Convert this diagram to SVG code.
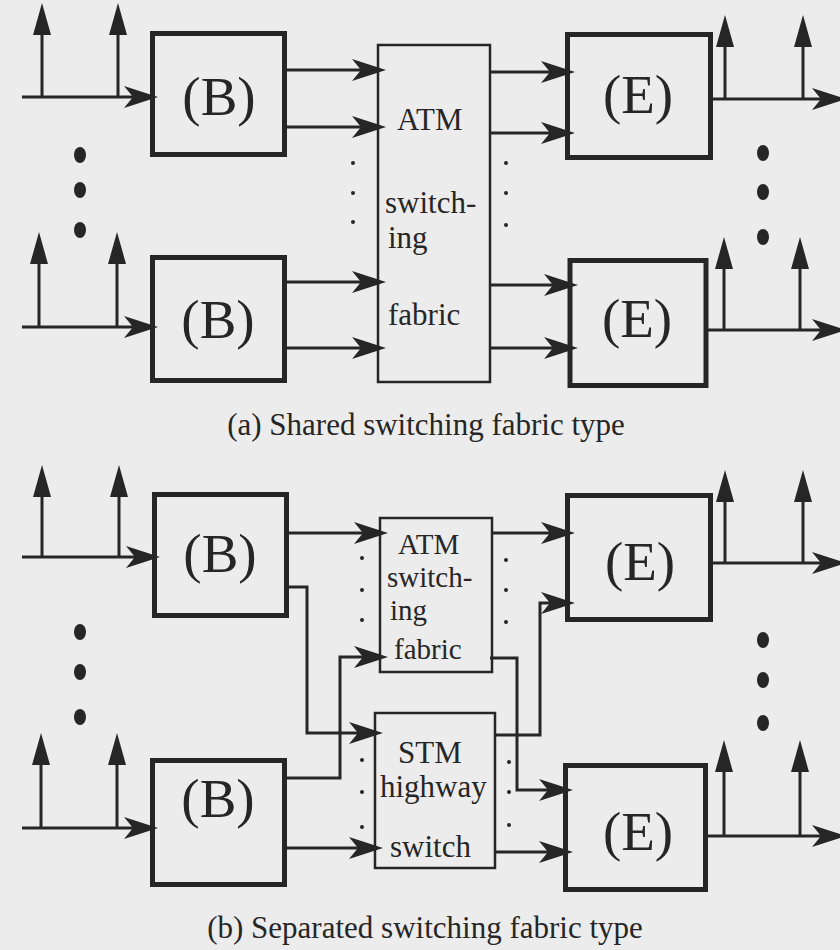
<svg xmlns="http://www.w3.org/2000/svg" width="840" height="950" viewBox="0 0 840 950">
<defs>
<style>
.bg{fill:#ececec}
.box{fill:none;stroke:#262626;stroke-width:5}
.sw{fill:none;stroke:#262626;stroke-width:2.5}
.ln{fill:none;stroke:#262626;stroke-width:3}
.big{font-family:"Liberation Serif","Times New Roman",serif;font-size:55px;fill:#262626;text-anchor:middle}
.lbl{font-family:"Liberation Serif","Times New Roman",serif;font-size:31px;fill:#262626}
.lbs{font-family:"Liberation Serif","Times New Roman",serif;font-size:29px;fill:#262626}
.cap{font-family:"Liberation Serif","Times New Roman",serif;font-size:31px;fill:#262626;text-anchor:middle}
.dot{fill:#262626}
</style>
<marker id="ah" viewBox="0 0 34 24" refX="26" refY="12" markerWidth="34" markerHeight="24" orient="auto" markerUnits="userSpaceOnUse">
<path d="M0,1 L34,12 L0,23 L9,12 Z" fill="#262626"/>
</marker>
<marker id="up" viewBox="0 0 32 18" refX="22" refY="9" markerWidth="32" markerHeight="18" orient="auto" markerUnits="userSpaceOnUse">
<path d="M0,0 L32,9 L0,18 Z" fill="#262626"/>
</marker>
</defs>
<rect class="bg" x="0" y="0" width="840" height="950"/>

<!-- (a) nodes -->
<g id="a-B1"><rect class="box" x="152.5" y="33.5" width="132" height="121"/><text class="big" x="219" y="115">(B)</text></g>
<g id="a-B2"><rect class="box" x="152.5" y="257.5" width="132" height="123"/><text class="big" x="218" y="338">(B)</text></g>
<g id="a-ATM"><rect class="sw" x="378" y="45" width="112" height="337"/>
<text class="lbl" x="397" y="130">ATM</text>
<text class="lbl" x="385" y="213">switch-</text>
<text class="lbl" x="388" y="248">ing</text>
<text class="lbl" x="388" y="325">fabric</text></g>
<g id="a-E1"><rect class="box" x="567.5" y="34.5" width="143" height="123"/><text class="big" x="638" y="113">(E)</text></g>
<g id="a-E2"><rect class="box" x="570" y="260.5" width="136" height="125"/><text class="big" x="637" y="337">(E)</text></g>

<!-- (b) nodes -->
<g id="b-B1"><rect class="box" x="154.5" y="494.5" width="132" height="121"/><text class="big" x="220" y="572">(B)</text></g>
<g id="b-B2"><rect class="box" x="152.5" y="760.5" width="132" height="124"/><text class="big" x="218" y="817">(B)</text></g>
<g id="b-ATM"><rect class="sw" x="380" y="518" width="112" height="154"/>
<text class="lbs" x="398" y="554">ATM</text>
<text class="lbs" x="387" y="587">switch-</text>
<text class="lbs" x="390" y="620">ing</text>
<text class="lbs" x="394" y="659">fabric</text></g>
<g id="b-STM"><rect class="sw" x="375" y="713" width="120" height="155"/>
<text class="lbl" x="398" y="763">STM</text>
<text class="lbl" x="380" y="797">highway</text>
<text class="lbl" x="390" y="857">switch</text></g>
<g id="b-E1"><rect class="box" x="567.5" y="495.5" width="143" height="124"/><text class="big" x="640" y="580">(E)</text></g>
<g id="b-E2"><rect class="box" x="565.5" y="765.5" width="140" height="124"/><text class="big" x="638" y="850">(E)</text></g>

<!-- connectors -->
<g id="connectors">
<!-- (a) left -->
<path class="ln" d="M22,97 H150" marker-end="url(#ah)"/>
<path class="ln" d="M42,97 V13" marker-end="url(#up)"/>
<path class="ln" d="M118,97 V13" marker-end="url(#up)"/>
<path class="ln" d="M22,327 H150" marker-end="url(#ah)"/>
<path class="ln" d="M39,327 V242" marker-end="url(#up)"/>
<path class="ln" d="M117,327 V242" marker-end="url(#up)"/>
<path class="ln" d="M287,70 H378" marker-end="url(#ah)"/>
<path class="ln" d="M287,127 H378" marker-end="url(#ah)"/>
<path class="ln" d="M287,282 H378" marker-end="url(#ah)"/>
<path class="ln" d="M287,348 H378" marker-end="url(#ah)"/>
<!-- (a) right -->
<path class="ln" d="M490,72 H567" marker-end="url(#ah)"/>
<path class="ln" d="M490,133 H567" marker-end="url(#ah)"/>
<path class="ln" d="M490,285 H570" marker-end="url(#ah)"/>
<path class="ln" d="M490,348 H570" marker-end="url(#ah)"/>
<path class="ln" d="M713,99 H838" marker-end="url(#ah)"/>
<path class="ln" d="M725,99 V25" marker-end="url(#up)"/>
<path class="ln" d="M803,99 V25" marker-end="url(#up)"/>
<path class="ln" d="M708,330 H838" marker-end="url(#ah)"/>
<path class="ln" d="M724,330 V247" marker-end="url(#up)"/>
<path class="ln" d="M800,330 V247" marker-end="url(#up)"/>
<!-- (b) left -->
<path class="ln" d="M22,557 H152" marker-end="url(#ah)"/>
<path class="ln" d="M42,557 V475" marker-end="url(#up)"/>
<path class="ln" d="M119,557 V475" marker-end="url(#up)"/>
<path class="ln" d="M22,828 H150" marker-end="url(#ah)"/>
<path class="ln" d="M41,828 V743" marker-end="url(#up)"/>
<path class="ln" d="M117,828 V743" marker-end="url(#up)"/>
<path class="ln" d="M289,533 H380" marker-end="url(#ah)"/>
<path class="ln" d="M289,587 H307 V733 H375" marker-end="url(#ah)"/>
<path class="ln" d="M287,778 H340 V657 H380" marker-end="url(#ah)"/>
<path class="ln" d="M287,848 H375" marker-end="url(#ah)"/>
<!-- (b) right -->
<path class="ln" d="M492,533 H567" marker-end="url(#ah)"/>
<path class="ln" d="M490,658 H517 V790 H565" marker-end="url(#ah)"/>
<path class="ln" d="M495,735 H540 V603 H567" marker-end="url(#ah)"/>
<path class="ln" d="M495,852 H565" marker-end="url(#ah)"/>
<path class="ln" d="M713,563 H838" marker-end="url(#ah)"/>
<path class="ln" d="M725,563 V480" marker-end="url(#up)"/>
<path class="ln" d="M803,563 V480" marker-end="url(#up)"/>
<path class="ln" d="M708,836 H838" marker-end="url(#ah)"/>
<path class="ln" d="M724,836 V750" marker-end="url(#up)"/>
<path class="ln" d="M800,836 V750" marker-end="url(#up)"/>
</g>

<!-- ellipsis dots -->
<g id="dots">
<ellipse class="dot" cx="80" cy="155" rx="6" ry="8"/>
<ellipse class="dot" cx="80" cy="190" rx="6" ry="8"/>
<ellipse class="dot" cx="80" cy="230" rx="6" ry="8"/>
<ellipse class="dot" cx="763" cy="153" rx="6" ry="8"/>
<ellipse class="dot" cx="763" cy="192" rx="6" ry="8"/>
<ellipse class="dot" cx="763" cy="237" rx="6" ry="8"/>
<circle class="dot" cx="353" cy="163" r="2"/>
<circle class="dot" cx="353" cy="193" r="2"/>
<circle class="dot" cx="353" cy="222" r="2"/>
<circle class="dot" cx="506" cy="163" r="2"/>
<circle class="dot" cx="506" cy="193" r="2"/>
<circle class="dot" cx="506" cy="225" r="2"/>
<ellipse class="dot" cx="80" cy="632" rx="6" ry="8"/>
<ellipse class="dot" cx="80" cy="672" rx="6" ry="8"/>
<ellipse class="dot" cx="80" cy="717" rx="6" ry="8"/>
<ellipse class="dot" cx="763" cy="640" rx="6" ry="8"/>
<ellipse class="dot" cx="763" cy="680" rx="6" ry="8"/>
<ellipse class="dot" cx="763" cy="723" rx="6" ry="8"/>
<circle class="dot" cx="362" cy="558" r="2"/>
<circle class="dot" cx="362" cy="590" r="2"/>
<circle class="dot" cx="362" cy="620" r="2"/>
<circle class="dot" cx="362" cy="760" r="2"/>
<circle class="dot" cx="362" cy="792" r="2"/>
<circle class="dot" cx="362" cy="827" r="2"/>
<circle class="dot" cx="506" cy="560" r="2"/>
<circle class="dot" cx="506" cy="590" r="2"/>
<circle class="dot" cx="506" cy="622" r="2"/>
<circle class="dot" cx="509" cy="762" r="2"/>
<circle class="dot" cx="509" cy="792" r="2"/>
<circle class="dot" cx="509" cy="825" r="2"/>
</g>

<text class="cap" x="426" y="435">(a) Shared switching fabric type</text>
<text class="cap" x="425" y="938">(b) Separated switching fabric type</text>
</svg>
